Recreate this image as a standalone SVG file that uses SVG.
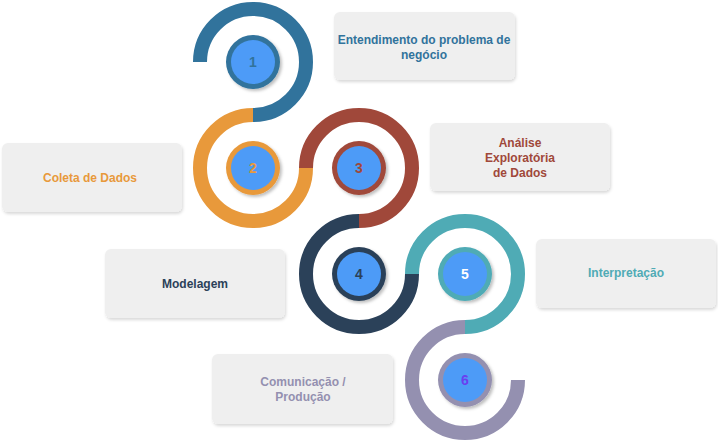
<svg xmlns="http://www.w3.org/2000/svg" width="718" height="442" viewBox="0 0 718 442">
<defs>
<filter id="sh" x="-20%" y="-20%" width="150%" height="150%"><feDropShadow dx="2" dy="2" stdDeviation="1.5" flood-color="#000" flood-opacity="0.25"/></filter>
<filter id="bs" x="-10%" y="-10%" width="120%" height="130%"><feDropShadow dx="1" dy="2" stdDeviation="1.5" flood-color="#000" flood-opacity="0.15"/></filter>
</defs>
<style>
.box{fill:#efefef;filter:url(#bs)}
.ring{fill:none;stroke-width:14}
.lbl{font-family:"Liberation Sans",Arial,sans-serif;font-size:12px;font-weight:bold;text-anchor:middle}
.num{font-family:"Liberation Sans",Arial,sans-serif;font-size:14px;font-weight:bold;text-anchor:middle}
.inner{fill:#4d9bf7}
</style>
<rect width="718" height="442" fill="#fff"/>
<g id="connectors">
<path class="ring" stroke="#31739c" d="M200,62 A53,53 0 1 1 253,115"/>
<path class="ring" stroke="#e8993b" d="M253,115 A53,53 0 1 0 306,168"/>
<path class="ring" stroke="#a0483a" d="M306,168 A53,53 0 1 1 359,221"/>
<path class="ring" stroke="#2b4159" d="M359,221 A53,53 0 1 0 412,274"/>
<path class="ring" stroke="#4fabb5" d="M412,274 A53,53 0 1 1 465,327"/>
<path class="ring" stroke="#9490b0" d="M465,327 A53,53 0 1 0 518,380"/>
</g>
<g id="n1"><rect class="box" x="334" y="12" width="181" height="68" rx="6"/>
<text class="lbl" fill="#31739c" x="424" y="44">Entendimento do problema de</text><text class="lbl" fill="#31739c" x="424" y="59">negócio</text>
<circle cx="253" cy="62" r="27" fill="#31739c" filter="url(#sh)"/><circle class="inner" cx="253" cy="62" r="22"/><text class="num" fill="#31739c" x="253" y="67">1</text></g>
<g id="n2"><rect class="box" x="2" y="143" width="180" height="69" rx="6"/>
<text class="lbl" fill="#e8993b" x="90" y="182">Coleta de Dados</text>
<circle cx="253" cy="168" r="27" fill="#e8993b" filter="url(#sh)"/><circle class="inner" cx="253" cy="168" r="22"/><text class="num" fill="#e8993b" x="253" y="173">2</text></g>
<g id="n3"><rect class="box" x="430" y="123" width="180" height="68" rx="6"/>
<text class="lbl" fill="#a0483a" x="520" y="147">Análise</text><text class="lbl" fill="#a0483a" x="520" y="162">Exploratória</text><text class="lbl" fill="#a0483a" x="520" y="177">de Dados</text>
<circle cx="359" cy="168" r="27" fill="#a0483a" filter="url(#sh)"/><circle class="inner" cx="359" cy="168" r="22"/><text class="num" fill="#a0483a" x="359" y="173">3</text></g>
<g id="n4"><rect class="box" x="105" y="249" width="180" height="69" rx="6"/>
<text class="lbl" fill="#2b4159" x="195" y="288">Modelagem</text>
<circle cx="359" cy="274" r="27" fill="#2b4159" filter="url(#sh)"/><circle class="inner" cx="359" cy="274" r="22"/><text class="num" fill="#2b4159" x="359" y="279">4</text></g>
<g id="n5"><rect class="box" x="536" y="239" width="180" height="69" rx="6"/>
<text class="lbl" fill="#4fabb5" x="626" y="277">Interpretação</text>
<circle cx="465" cy="274" r="27" fill="#4fabb5" filter="url(#sh)"/><circle class="inner" cx="465" cy="274" r="22"/><text class="num" fill="#fff" x="465" y="279">5</text></g>
<g id="n6"><rect class="box" x="212" y="354" width="181" height="70" rx="6"/>
<text class="lbl" fill="#9490b0" x="303" y="386">Comunicação /</text><text class="lbl" fill="#9490b0" x="303" y="401">Produção</text>
<circle cx="465" cy="380" r="27" fill="#9490b0" filter="url(#sh)"/><circle class="inner" cx="465" cy="380" r="22"/><text class="num" fill="#6a3ff0" x="465" y="385">6</text></g>
</svg>
